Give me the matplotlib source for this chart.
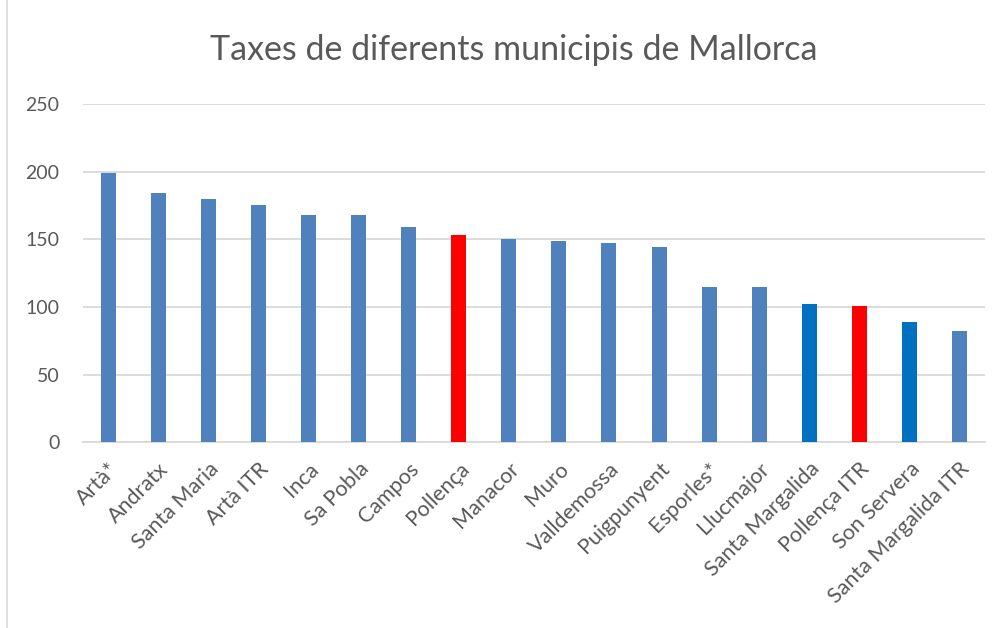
import matplotlib
matplotlib.use("Agg")
import matplotlib.pyplot as plt
from matplotlib.lines import Line2D

categories = ["Artà*", "Andratx", "Santa Maria", "Artà ITR", "Inca", "Sa Pobla", "Campos",
              "Pollença", "Manacor", "Muro", "Valldemossa", "Puigpunyent", "Esporles*",
              "Llucmajor", "Santa Margalida", "Pollença ITR", "Son Servera", "Santa Margalida ITR"]
values = [199, 184.5, 180, 175.5, 168, 168, 159.5, 153.5, 150.5, 149, 147.5, 144.5,
          114.5, 114.5, 102.5, 101, 89, 82]
colors = ["#4F81BD"] * 7 + ["#FF0000"] + ["#4F81BD"] * 6 + ["#0070C0", "#FF0000", "#0070C0", "#4F81BD"]
yticks = [0, 50, 100, 150, 200, 250]
title = "Taxes de diferents municipis de Mallorca"

plt.rcParams['font.family'] = ['Lato', 'DejaVu Sans']
txt = "#595959"

fig = plt.figure(figsize=(10.04, 6.28), dpi=100)
ax = fig.add_axes([0.0827, 0.296, 0.898, 0.538])
x = range(len(categories))
ax.bar(x, values, width=0.3, color=colors, zorder=3)
ax.set_xlim(-0.5, len(categories) - 0.5)
ax.set_ylim(0, 250)
ax.set_yticks(yticks)
ax.set_yticklabels([str(t) for t in yticks], fontsize=14, color=txt)
ax.yaxis.grid(True, color="#D9D9D9", linewidth=1.3, zorder=0)
ax.set_xticks(list(x))
ax.set_xticklabels(categories, rotation=45, ha="right", rotation_mode="anchor",
                   fontsize=15.5, color=txt)
ax.tick_params(axis="x", length=0, pad=12)
ax.tick_params(axis="y", length=0, pad=17)
for s in ["top", "right", "left"]:
    ax.spines[s].set_visible(False)
ax.spines["bottom"].set_color("#D9D9D9")
ax.spines["bottom"].set_linewidth(1.3)

fig.text(0.512, 0.92, title, ha="center", va="center", fontsize=24.5, color=txt)
fig.add_artist(Line2D([7 / 1004, 7 / 1004], [0, 1], color="#D9D9D9", linewidth=1.2,
                      transform=fig.transFigure))

fig.savefig("out.png", dpi=100)
